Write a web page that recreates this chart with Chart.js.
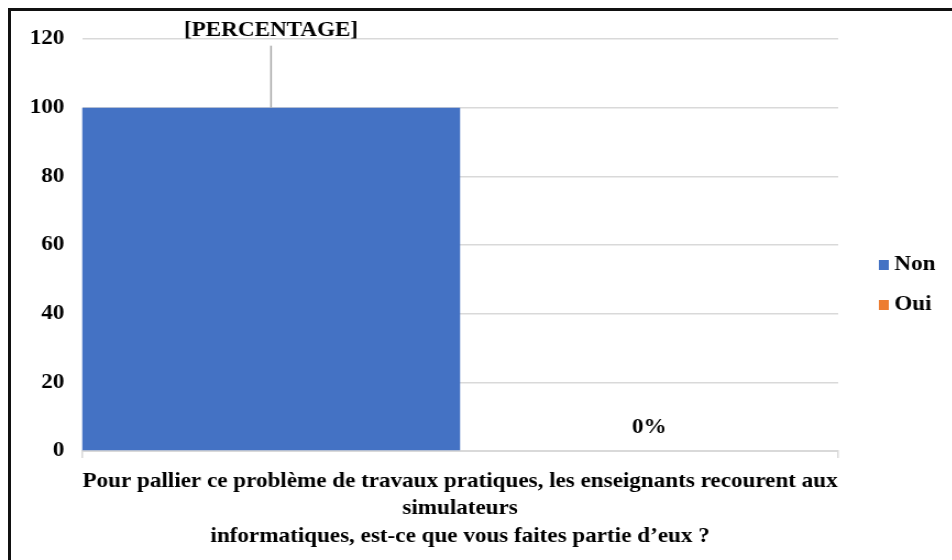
<!DOCTYPE html>
<html>
<head>
<meta charset="utf-8">
<script src="https://cdn.jsdelivr.net/npm/chart.js@4"></script>
<style>
  html, body { margin: 0; padding: 0; background: #fff; overflow: hidden; }
  #frame {
    position: absolute; left: 8px; top: 8px; width: 944px; height: 549px;
    border-top: 3px solid #111; border-left: 3px solid #111; border-bottom: 1px solid #ddd;
  }
  /* la figure d'origine est un peu étirée en largeur */
  #chart { position: absolute; left: 0; top: 0; transform: scaleX(1.1); transform-origin: 0 0; }
</style>
</head>
<body>
<div id="frame"></div>
<canvas id="chart" width="866" height="560" style="width:866px;height:560px"></canvas>
<script>
// données
const categories = [[
  'Pour pallier ce problème de travaux pratiques, les enseignants recourent aux',
  'simulateurs',
  'informatiques, est-ce que vous faites partie d’eux ?'
]]
const seriesNames = ['Non', 'Oui']
const seriesColors = ['#4472C4', '#ED7D31']
const nonValues = [100]
const ouiValues = [0]
const valueLabels = ['[PERCENTAGE]', '0%']
const yTicks = [0, 20, 40, 60, 80, 100, 120]

const FONT = '"Liberation Serif", "Times New Roman", serif'
const GRID = '#d9d9d9'

// étiquettes de valeurs + légende dessinées à la main
const overlay = {
  id: 'overlay',
  afterDatasetsDraw(chart) {
    const ctx = chart.ctx
    ctx.save()
    ctx.font = 'bold 21px ' + FONT
    ctx.fillStyle = '#000'
    ctx.textAlign = 'center'
    ctx.textBaseline = 'middle'

    const nonBar = chart.getDatasetMeta(0).data[0]
    ctx.strokeStyle = '#a6a6a6'
    ctx.lineWidth = 1.5
    ctx.beginPath()
    ctx.moveTo(nonBar.x, nonBar.y)
    ctx.lineTo(nonBar.x, nonBar.y - 62)
    ctx.stroke()
    ctx.fillText(valueLabels[0], nonBar.x, nonBar.y - 77)

    const ouiBar = chart.getDatasetMeta(1).data[0]
    ctx.fillText(valueLabels[1], ouiBar.x, ouiBar.y - 23)

    // légende
    const lx = chart.chartArea.right + 37
    const cy = chart.height / 2 + 5
    ctx.textAlign = 'left'
    seriesNames.forEach((name, i) => {
      const y = cy - 20 + i * 40
      ctx.fillStyle = seriesColors[i]
      ctx.fillRect(lx, y - 5, 9, 10)
      ctx.fillStyle = '#000'
      ctx.fillText(name, lx + 14, y)
    })
    ctx.restore()
  }
}

const ctx = document.getElementById('chart')
const chart = new Chart(ctx, {
  type: 'bar',
  data: {
    labels: categories,
    datasets: [
      { label: seriesNames[0], data: nonValues, backgroundColor: seriesColors[0] },
      { label: seriesNames[1], data: ouiValues, backgroundColor: seriesColors[1] }
    ]
  },
  options: {
    responsive: false,
    animation: false,
    categoryPercentage: 1,
    barPercentage: 1,
    inflateAmount: 0,
    layout: { padding: { top: 39, right: 104, left: 0, bottom: 0 } },
    plugins: {
      legend: { display: false },
      tooltip: { enabled: false }
    },
    scales: {
      x: {
        offset: true,
        grid: { display: true, drawOnChartArea: false, offset: true, drawTicks: true, tickLength: 7, color: GRID, lineWidth: 1.5 },
        border: { display: true, color: GRID, width: 2 },
        ticks: {
          color: '#000',
          font: { family: FONT, size: 21, weight: 'bold', lineHeight: 1.3 },
          maxRotation: 0, minRotation: 0, autoSkip: false, padding: 10
        },
        afterFit: (scale) => { scale.height = 109 }
      },
      y: {
        min: 0,
        max: yTicks[yTicks.length - 1],
        afterBuildTicks: (scale) => { scale.ticks = yTicks.map((v) => ({ value: v })) },
        grid: { color: GRID, lineWidth: 1.5, drawTicks: false },
        border: { display: false },
        ticks: {
          color: '#000',
          padding: 16,
          font: { family: FONT, size: 21, weight: 'bold' }
        },
        afterFit: (scale) => { scale.width = 74.5 }
      }
    }
  },
  plugins: [overlay]
})
</script>
</body>
</html>
